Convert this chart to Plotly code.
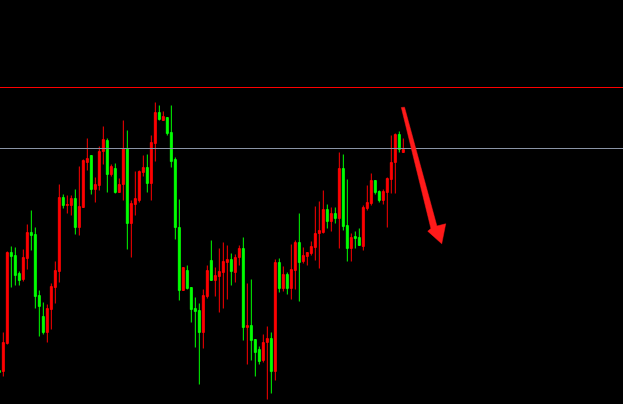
import plotly.graph_objects as go

# bar index (one per session)
idx = list(range(-1, 101))

opens = [30, 29, 57, 148, 145, 127, 121, 142, 168, 166, 105, 84, 68, 91, 113, 129,
         203, 195, 195, 202, 173, 193, 238, 245, 211, 215, 249, 260, 226, 232, 208, 216,
         252, 177, 196, 200, 228, 233, 217, 257, 288, 280, 283, 268, 241, 173, 110, 130,
         113, 92, 90, 68, 104, 140, 120, 124, 128, 138, 141, 128, 143, 152, 73, 75,
         61, 51, 40, 58, 62, 29, 138, 112, 126, 112, 130, 158, 139, 144, 147, 153,
         167, 168, 191, 179, 187, 182, 232, 175, 152, 164, 163, 154, 192, 197, 220, 209,
         200, 208, 221, 238, 266, 248]
highs = [31, 68, 149, 154, 153, 129, 151, 176, 190, 173, 110, 98, 96, 117, 139, 216,
         206, 205, 205, 211, 234, 241, 262, 245, 223, 254, 274, 262, 236, 237, 222, 280,
         270, 200, 229, 230, 245, 246, 265, 298, 295, 289, 283, 295, 243, 201, 133, 135,
         113, 103, 97, 111, 135, 160, 133, 152, 158, 155, 147, 146, 155, 163, 117, 121,
         61, 54, 66, 74, 68, 141, 142, 134, 128, 156, 160, 187, 153, 148, 159, 194,
         199, 210, 196, 193, 193, 248, 246, 221, 167, 169, 172, 195, 215, 227, 220, 210,
         211, 223, 265, 267, 269, 262]
lows = [27, 24, 56, 113, 115, 115, 119, 131, 150, 92, 64, 66, 58, 71, 97, 118,
        192, 187, 185, 166, 165, 193, 230, 206, 198, 210, 236, 208, 224, 207, 208, 200,
        151, 143, 185, 198, 224, 208, 200, 239, 280, 280, 265, 233, 161, 100, 110, 111,
        78, 53, 16, 52, 102, 120, 104, 88, 92, 101, 115, 118, 135, 60, 36, 40,
        24, 36, 38, 1, 7, 20, 108, 109, 106, 101, 111, 99, 137, 135, 145, 140,
        132, 167, 172, 169, 177, 152, 170, 139, 139, 152, 155, 150, 190, 195, 206, 198,
        196, 173, 207, 207, 248, 248]
closes = [28, 58, 148, 144, 125, 120, 143, 168, 165, 104, 94, 68, 92, 114, 130, 203,
          195, 196, 202, 173, 194, 240, 242, 211, 216, 249, 261, 226, 234, 208, 216, 252,
          177, 197, 202, 229, 233, 217, 258, 288, 281, 284, 267, 239, 173, 110, 133, 112,
          91, 89, 68, 105, 130, 120, 125, 129, 139, 141, 129, 143, 152, 73, 75, 60,
          48, 39, 58, 62, 29, 138, 112, 126, 112, 131, 158, 138, 145, 148, 154, 167,
          170, 191, 179, 187, 182, 232, 174, 152, 163, 162, 155, 193, 198, 220, 208, 200,
          209, 222, 238, 266, 251, 251]

resistance_level = 313
support_level = 252

UP = "#ff0000"
DOWN = "#00ff00"

fig = go.Figure()
fig.add_trace(go.Candlestick(
    x=idx, open=opens, high=highs, low=lows, close=closes,
    increasing=dict(line=dict(color=UP, width=1), fillcolor=UP),
    decreasing=dict(line=dict(color=DOWN, width=1), fillcolor=DOWN),
    whiskerwidth=0,
    hoverinfo="skip",
))

fig.add_shape(type="line", xref="paper", x0=0, x1=1, yref="y",
              y0=resistance_level, y1=resistance_level,
              line=dict(color="#ff0000", width=1))
fig.add_shape(type="line", xref="paper", x0=0, x1=1, yref="y",
              y0=support_level, y1=support_level,
              line=dict(color="#8a94a6", width=1))

# tapered arrow drawn in data space
arrow_pts = [(99.5, 293.0), (100.3, 293.3), (108.4, 174.5), (110.6, 176.7),
             (109.6, 156.7), (106.1, 169.3), (106.9, 172.0)]
path = "M " + " L ".join(f"{x},{y}" for x, y in arrow_pts) + " Z"
fig.add_shape(type="path", xref="x", yref="y", path=path,
              fillcolor="#ff1a1a", line=dict(color="#ff1a1a", width=0.5))

fig.update_layout(
    width=623, height=404,
    margin=dict(l=0, r=0, t=0, b=0),
    paper_bgcolor="#000000", plot_bgcolor="#000000",
    showlegend=False,
    xaxis=dict(range=[-0.833, 154.92], visible=False, showgrid=False,
               rangeslider=dict(visible=False), fixedrange=True),
    yaxis=dict(range=[-3.5, 400.5], visible=False, showgrid=False, fixedrange=True),
)

fig.write_html(
    "out.html",
    config={"displayModeBar": False},
    post_script="document.body.style.margin='0';document.body.style.padding='0';"
                "document.body.style.background='#000';document.body.style.overflow='hidden';",
)
